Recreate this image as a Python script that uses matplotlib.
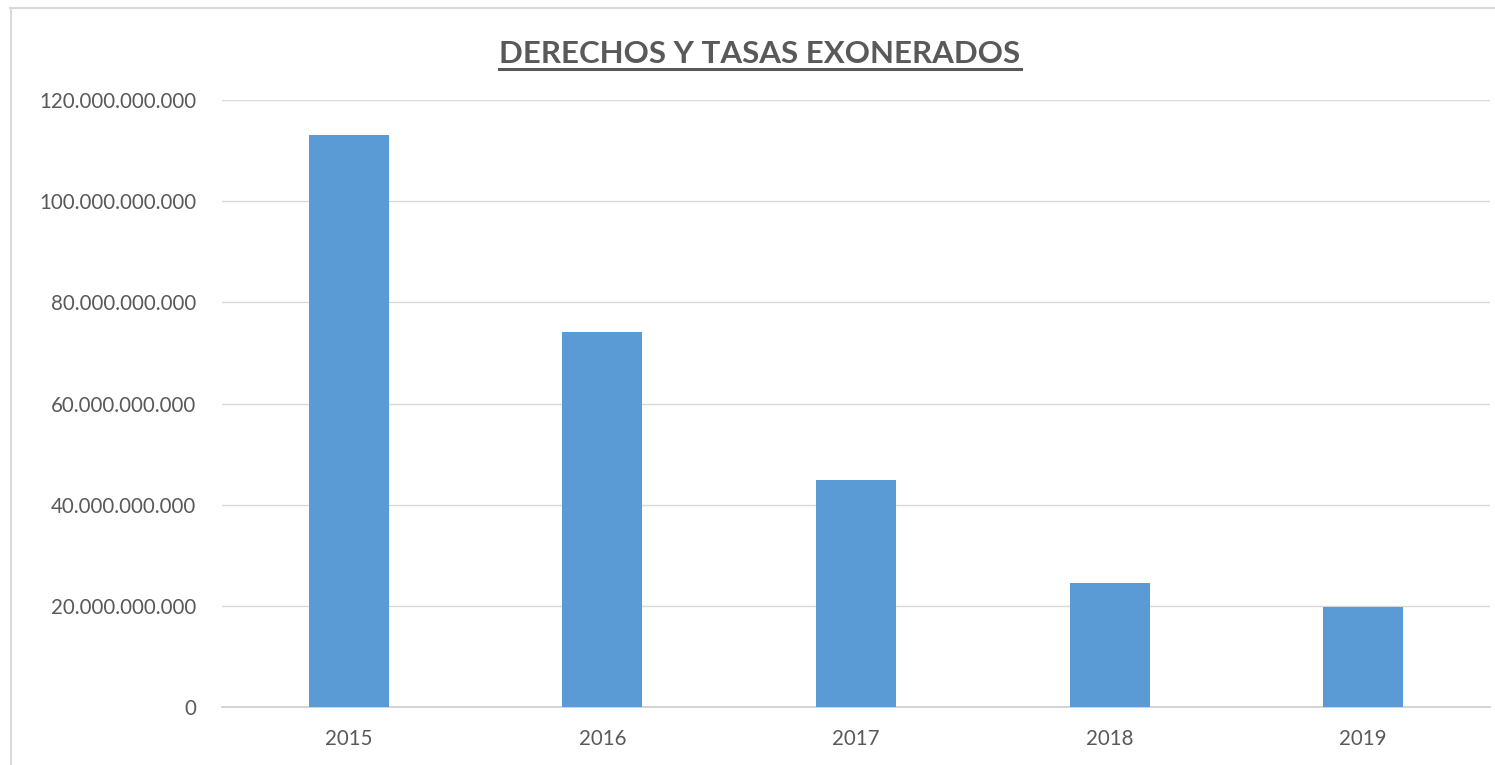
import matplotlib
matplotlib.use("Agg")
from matplotlib import pyplot as plt
from matplotlib.lines import Line2D
from matplotlib.ticker import FuncFormatter

years = ["2015", "2016", "2017", "2018", "2019"]
montos = [113.0e9, 74.2e9, 44.9e9, 24.6e9, 19.8e9]
y_ticks = [0, 20e9, 40e9, 60e9, 80e9, 100e9, 120e9]

plt.rcParams['font.family'] = ['Lato', 'DejaVu Sans']

W, H = 1495, 765
fig = plt.figure(figsize=(W / 100, H / 100), dpi=100)
ax = fig.add_axes([222 / W, (H - 707) / H, (1490 - 222) / W, (707 - 100) / H])

ax.bar(range(len(years)), montos, width=0.315, color="#5B9BD5", zorder=3)

ax.set_xlim(-0.5, len(years) - 0.5)
ax.set_ylim(0, 120e9)
ax.set_yticks(y_ticks)
ax.yaxis.set_major_formatter(FuncFormatter(lambda v, p: f"{int(v):,}".replace(",", ".")))
ax.set_xticks(range(len(years)))
ax.set_xticklabels(years)

ax.grid(axis="y", color="#D9D9D9", linewidth=1.0, zorder=0)
for s in ["top", "right", "left"]:
    ax.spines[s].set_visible(False)
ax.spines["bottom"].set_color("#D0D0D0")
ax.spines["bottom"].set_linewidth(1.3)
ax.tick_params(axis="both", length=0, labelsize=14.8, colors="#595959")
ax.tick_params(axis="y", pad=18.5)
ax.tick_params(axis="x", pad=16)

# title with underline
t = fig.text(760 / W, 1 - 54 / H, "DERECHOS Y TASAS EXONERADOS", ha="center", va="center",
             fontsize=22.5, fontweight="bold", color="#595959")
fig.canvas.draw()
bb = t.get_window_extent().transformed(fig.transFigure.inverted())
uy = 1 - 69 / H
fig.add_artist(Line2D([bb.x0, bb.x1], [uy, uy], color="#595959", linewidth=2.2))

# chart area border (top and left visible)
fig.add_artist(Line2D([10 / W, 1.0], [1 - 7.5 / H, 1 - 7.5 / H], color="#D9D9D9", linewidth=1.5))
fig.add_artist(Line2D([10.5 / W, 10.5 / W], [0, 1 - 7.5 / H], color="#D9D9D9", linewidth=1.5))

fig.savefig("out.png", dpi=100)
